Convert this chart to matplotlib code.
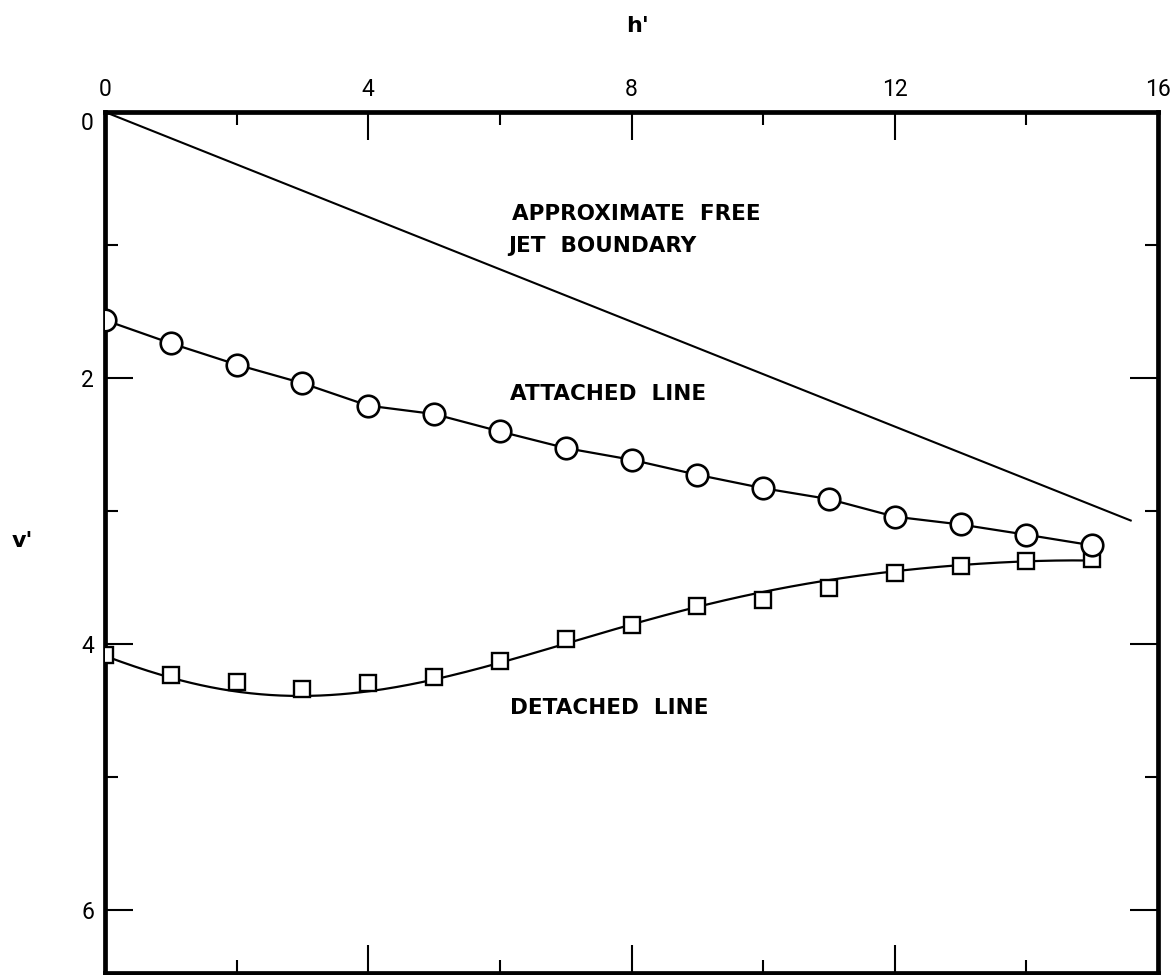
import numpy as np
import matplotlib
matplotlib.use("Agg")
import matplotlib.pyplot as plt
from matplotlib.ticker import MultipleLocator

# Station positions along the jet, h'
h_stations = [0, 1, 2, 3, 4, 5, 6, 7, 8, 9, 10, 11, 12, 13, 14, 15]

# Attached line (circles), v'
attached_v = [1.566, 1.740, 1.900, 2.040, 2.209, 2.272, 2.403, 2.528,
              2.616, 2.729, 2.830, 2.912, 3.044, 3.103, 3.180, 3.260]

# Detached line (squares), v'
detached_v = [4.088, 4.239, 4.285, 4.341, 4.298, 4.247, 4.133, 3.962,
              3.862, 3.713, 3.672, 3.580, 3.467, 3.416, 3.378, 3.366]

# Faired curve drawn through the detached-line data
detached_fair_h = [0, 1, 2, 2.7, 4, 5, 6, 7, 8, 9, 10, 11, 12, 13, 14, 15.05]
detached_fair_v = [4.09, 4.26, 4.36, 4.39, 4.34, 4.28, 4.17, 3.98, 3.84,
                   3.73, 3.62, 3.52, 3.45, 3.41, 3.38, 3.375]

# Approximate free jet boundary (straight line)
jet_h = [0.0, 15.6]
jet_v = [0.0, 3.076]

x_major = [0, 4, 8, 12, 16]
y_major = [0, 2, 4, 6]

W, H = 1171, 975
fig = plt.figure(figsize=(W / 100, H / 100), dpi=100)
ax = fig.add_axes([105 / W, 2 / H, (1158 - 105) / W, (973 - 112) / H])

ax.set_xlim(0, 16)
ax.set_ylim(6.477, 0)

# jet boundary
ax.plot(jet_h, jet_v, color="black", lw=1.5, solid_capstyle="butt", zorder=2)

# attached line
ax.plot(h_stations, attached_v, color="black", lw=1.6, zorder=2)
ax.plot(h_stations, attached_v, linestyle="none", marker="o", ms=15.5,
        mfc="white", mec="black", mew=1.9, zorder=4)

# detached line: smooth fairing
coef = np.polyfit(detached_fair_h, detached_fair_v, 6)
hh = np.linspace(detached_fair_h[0], detached_fair_h[-1], 300)
ax.plot(hh, np.polyval(coef, hh), color="black", lw=1.6, zorder=2)
ax.plot(h_stations, detached_v, linestyle="none", marker="s", ms=11,
        mfc="white", mec="black", mew=1.7, zorder=3)

# annotations
lab_kw = dict(fontsize=15.5, fontweight="bold", family="DejaVu Sans",
              ha="left", va="center")
ax.text(6.18, 0.768, "APPROXIMATE  FREE", **lab_kw)
ax.text(6.12, 1.006, "JET  BOUNDARY", **lab_kw)
ax.text(6.15, 2.125, "ATTACHED  LINE", **lab_kw)
ax.text(6.15, 4.487, "DETACHED  LINE", **lab_kw)

# axes frame and ticks
for s in ax.spines.values():
    s.set_linewidth(3.4)
ax.xaxis.set_major_locator(MultipleLocator(4))
ax.xaxis.set_minor_locator(MultipleLocator(2))
ax.yaxis.set_major_locator(MultipleLocator(2))
ax.yaxis.set_minor_locator(MultipleLocator(1))
ax.set_xticks(x_major)
ax.set_yticks(y_major)
ax.xaxis.tick_top()
ax.tick_params(which="both", direction="in", top=True, bottom=True,
               left=True, right=True, labeltop=True, labelbottom=False,
               labelleft=True, labelright=False, width=1.5, color="black",
               labelcolor="black")
ax.tick_params(which="major", length=20, pad=8, labelsize=16.5)
ax.tick_params(which="minor", length=9.5)
for lab in ax.get_xticklabels() + ax.get_yticklabels():
    lab.set_family(["Roboto", "DejaVu Sans"])
    lab.set_fontweight("normal")
ax.yaxis.get_major_ticks()[0].label1.set_verticalalignment("top")

# axis titles
fig.text(638 / W, 1 - 32 / H, "h'", ha="center", va="baseline",
         fontsize=16, fontweight="bold", family="DejaVu Sans")
fig.text(22 / W, 1 - 547 / H, "v'", ha="center", va="baseline",
         fontsize=16, fontweight="bold", family="DejaVu Sans")

fig.savefig("out.png", dpi=100, facecolor="white")
